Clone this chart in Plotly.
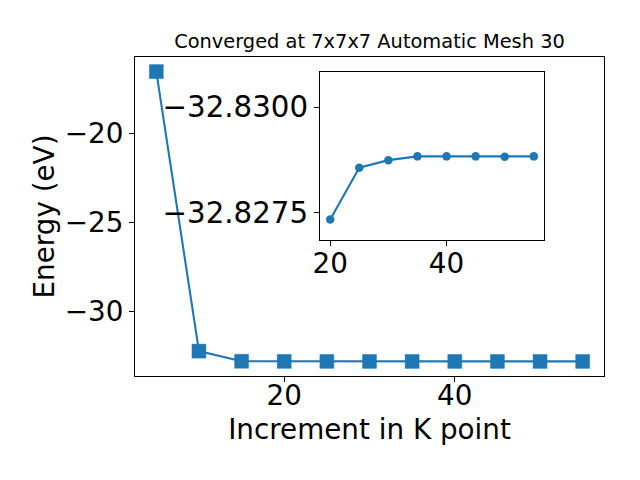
import plotly.graph_objects as go

# Main series
kpoints = [5, 10, 15, 20, 25, 30, 35, 40, 45, 50, 55]
energy = [-16.52, -32.25, -32.820, -32.8273, -32.8286, -32.8287, -32.8288,
          -32.8288, -32.8288, -32.8288, -32.8288]

# Inset series
inset_k = [20, 25, 30, 35, 40, 45, 50, 55]
inset_energy = [-32.82733, -32.82856, -32.82874, -32.82883, -32.82883,
                -32.82883, -32.82882, -32.82883]

title_text = "Converged at 7x7x7 Automatic Mesh 30"
xlabel = "Increment in K point"
ylabel = "Energy (eV)"

BLUE = "#1f77b4"
FONT = "DejaVu Sans"


def axis_style(size):
    return dict(
        showline=True, linecolor="black", linewidth=1, mirror=True,
        ticks="outside", ticklen=5, tickwidth=1, tickcolor="black",
        showgrid=False, zeroline=False, automargin=False,
        tickfont=dict(family=FONT, size=size, color="black"),
    )


fig = go.Figure()
fig.add_trace(go.Scatter(
    x=kpoints, y=energy, mode="lines+markers",
    line=dict(color=BLUE, width=2.1),
    marker=dict(symbol="square", size=14, color=BLUE,
                line=dict(color="rgba(31,119,180,0.6)", width=0.7)),
    xaxis="x", yaxis="y", showlegend=False,
))
fig.add_trace(go.Scatter(
    x=inset_k, y=inset_energy, mode="lines+markers",
    line=dict(color=BLUE, width=2.1),
    marker=dict(symbol="circle", size=8.5, color=BLUE),
    xaxis="x2", yaxis="y2", showlegend=False,
))

fig.update_layout(
    width=640, height=480,
    margin=dict(l=135, r=36, t=57, b=104),
    paper_bgcolor="white", plot_bgcolor="white",
    font=dict(family=FONT, color="black"),
    title=dict(text=title_text, x=0.5, xref="paper", xanchor="center",
               y=1 - 41 / 480, yref="container", yanchor="middle",
               font=dict(family=FONT, size=19.4, color="black")),
    xaxis=dict(domain=[0, 1], range=[2.5, 57.5], tick0=0, dtick=20,
               ticklabelstandoff=-10,
               title=dict(text=xlabel, font=dict(family=FONT, size=27.8), standoff=8),
               **axis_style(27.8)),
    yaxis=dict(domain=[0, 1], range=[-33.65, -15.70], tick0=0, dtick=5,
               title=dict(text=ylabel, font=dict(family=FONT, size=27.8), standoff=2),
               **axis_style(27.8)),
    xaxis2=dict(domain=[0.3945, 0.872], anchor="y2", range=[18.25, 56.75],
                tick0=0, dtick=20, ticklabelstandoff=-6, **axis_style(27.8)),
    yaxis2=dict(domain=[0.4263, 0.952], anchor="x2",
                range=[-32.82684, -32.83083], tick0=0, dtick=0.0025,
                tickformat=".4f", **axis_style(29.3)),
)

fig.write_html("out.html", config={"displayModeBar": False},
               post_script="document.body.style.margin='0px';document.body.style.padding='0px';")
